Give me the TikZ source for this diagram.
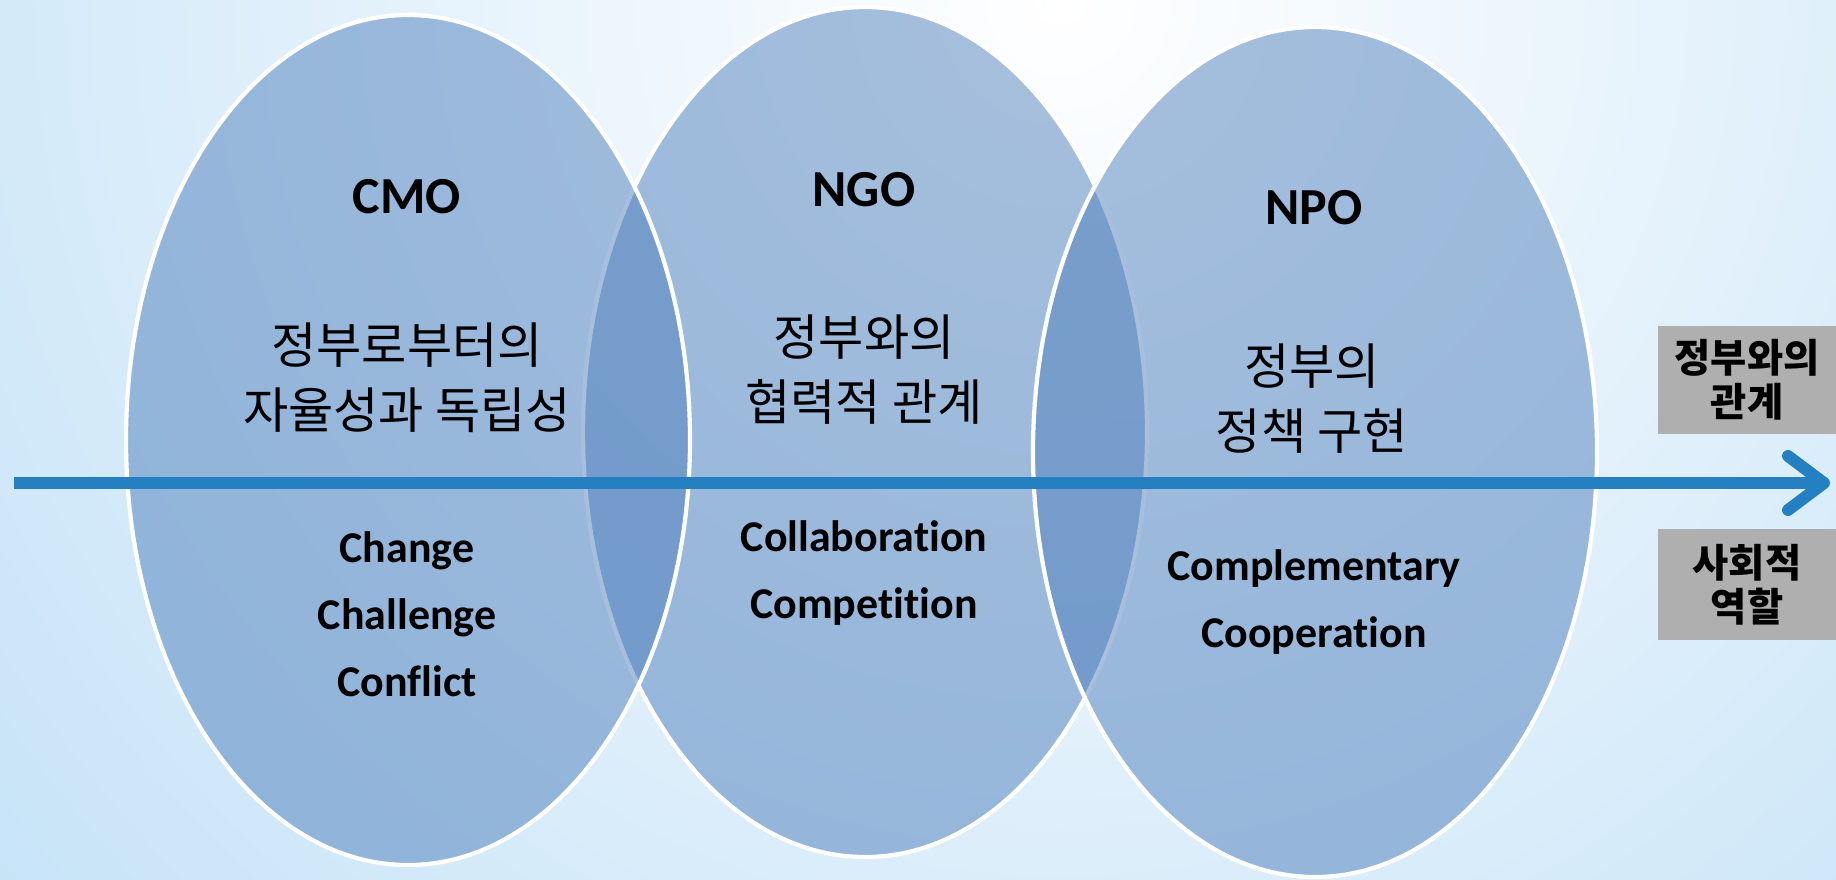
\documentclass[tikz,border=0pt]{standalone}
\usepackage{fontspec}
\setmainfont{Carlito}[Ligatures=NoCommon]
\newfontfamily\krFont{Noto Sans CJK KR}
\usepackage{tikz}
\usetikzlibrary{shapes.geometric,arrows.meta}
\definecolor{bgBlue}{RGB}{196,226,247}
\definecolor{orgBlue}{RGB}{80,128,188}
\definecolor{axisBlue}{RGB}{36,128,193}
\definecolor{tagGray}{RGB}{175,175,175}
\newcommand{\relTitle}{정부와의\\관계}
\newcommand{\roleTitle}{사회적\\역할}

\begin{document}
\begin{tikzpicture}[
	org/.style={ellipse, draw=white, line width=1.2pt, fill=orgBlue, fill opacity=0.5, minimum width=5.64cm, minimum height=8.5cm, inner sep=0pt},
	orgTitle/.style={font=\bfseries\fontsize{14.8}{18}\selectfont},
	orgRole/.style={align=center, font=\krFont\fontsize{14}{18.5}\selectfont},
	orgWords/.style={align=center, font=\bfseries\fontsize{12.5}{19}\selectfont},
	tag/.style={fill=tagGray, minimum width=1.79cm, inner sep=0pt, align=center, font=\krFont\bfseries\fontsize{11.2}{12.5}\selectfont},
	axis/.style={draw=axisBlue, line width=3.4pt, -{Straight Barb[length=3.6mm, width=5.4mm, round]}}
	]
	\useasboundingbox (0,0) rectangle (18.36,8.79);
	\begin{scope}
		\clip (0,0) rectangle (18.36,8.79);
		\fill[bgBlue] (0,0) rectangle (18.36,8.79);
		\shade[inner color=white, outer color=bgBlue] (10.6,8.79) circle (14.5);
	\end{scope}
	\foreach \orgName/\xCoord/\yCoord in {ngo/8.65/4.47, cmo/4.08/4.39, npo/13.15/4.27}
	{
		\node[org] (\orgName) at (\xCoord,\yCoord) {};
	}
	\coordinate (axisStart) at (0.14,3.96);
	\coordinate (axisEnd) at (18.30,3.96);
	\draw[axis] (axisStart) -- (axisEnd);

	\node[orgTitle] (cmoTitle) at (4.07,6.82) {CMO};
	\node[orgRole] (cmoRole) at (4.07,5.01) {정부로부터의\\자율성과 독립성};
	\node[orgWords] (cmoWords) at (4.07,2.65) {Change\\Challenge\\Conflict};

	\node[orgTitle] (ngoTitle) at (8.64,6.89) {NGO};
	\node[orgRole] (ngoRole) at (8.64,5.09) {정부와의\\협력적 관계};
	\node[orgWords] (ngoWords) at (8.64,3.06) {Collaboration\\Competition};

	\node[orgTitle] (npoTitle) at (13.14,6.71) {NPO};
	\node[orgRole] (npoRole) at (13.12,4.80) {정부의\\정책 구현};
	\node[orgWords] (npoWords) at (13.14,2.77) {Complementary\\Cooperation};

	\node[tag, minimum height=1.08cm] (relTag) at (17.47,4.99) {\relTitle};
	\node[tag, minimum height=1.11cm] (roleTag) at (17.47,2.945) {\roleTitle};
\end{tikzpicture}
\end{document}
